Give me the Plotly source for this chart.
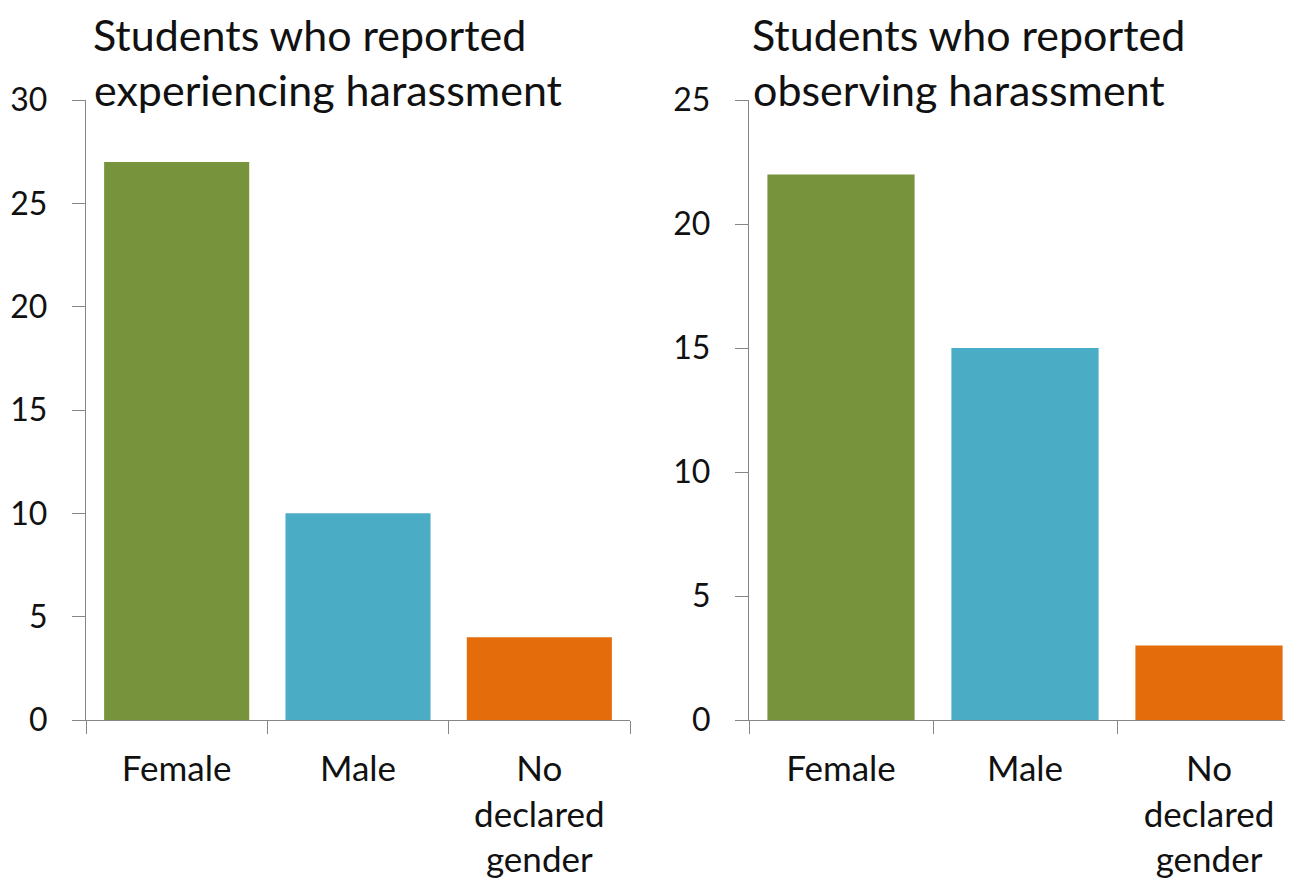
import plotly.graph_objects as go

categories = ["Female", "Male", "No<br>declared<br>gender"]
experiencing = [27, 10, 4]
observing = [22, 15, 3]
bar_colors = ["#77933C", "#4BACC6", "#E46C0A"]
title_left = ["Students who reported", "experiencing harassment"]
title_right = ["Students who reported", "observing harassment"]

FONT = "Lato"
W, H = 1293, 882
OFF = 8  # page body margin offset


def px_x(p):
    return (p - OFF) / W


def px_y(p):
    return 1 - (p - OFF) / H


fig = go.Figure()
fig.add_trace(go.Bar(x=categories, y=experiencing, marker=dict(color=bar_colors, line=dict(width=0)),
                     xaxis="x", yaxis="y", showlegend=False))
fig.add_trace(go.Bar(x=categories, y=observing, marker=dict(color=bar_colors, line=dict(width=0)),
                     xaxis="x2", yaxis="y2", showlegend=False))

ydom = [px_y(720), px_y(100)]
axis_common = dict(showline=True, linecolor="#868686", linewidth=1.3, ticks="outside",
                   tickcolor="#868686", ticklen=13, tickwidth=1.3, showgrid=False, zeroline=False,
                   automargin=False)
xfont = dict(family=FONT, size=35, color="#111111")
yfont = dict(family=FONT, size=32, color="#111111")

fig.update_layout(
    width=W, height=H, margin=dict(l=0, r=0, t=0, b=0, autoexpand=False),
    plot_bgcolor="white", paper_bgcolor="white", bargap=0.2,
    xaxis=dict(domain=[px_x(86), px_x(630)], type="category", range=[-0.5, 2.5], tickson="boundaries",
               anchor="y", tickfont=xfont, ticklabelstandoff=18, **axis_common),
    yaxis=dict(domain=ydom, range=[0, 30], dtick=5, anchor="x", tickfont=yfont,
               ticklabelstandoff=18, **axis_common),
    xaxis2=dict(domain=[px_x(749), 1.0], type="category", range=[-0.5, 2.5], tickson="boundaries",
                anchor="y2", tickfont=xfont, ticklabelstandoff=18, **axis_common),
    yaxis2=dict(domain=ydom, range=[0, 25], dtick=5, anchor="x2", tickfont=yfont,
                ticklabelstandoff=18, **axis_common),
)

tfont = dict(family=FONT, size=43, color="#111111")
for x0, lines in [(92, title_left), (751, title_right)]:
    fig.add_annotation(text=lines[0], xref="paper", yref="paper", x=px_x(x0),
                       y=1.0, xanchor="left", yanchor="top", borderpad=0,
                       align="left", showarrow=False, font=tfont)
    fig.add_annotation(text=lines[1], xref="paper", yref="paper", x=px_x(x0),
                       y=px_y(90), xanchor="left", yanchor="middle",
                       align="left", showarrow=False, font=tfont)

fig.write_html("out.html")
